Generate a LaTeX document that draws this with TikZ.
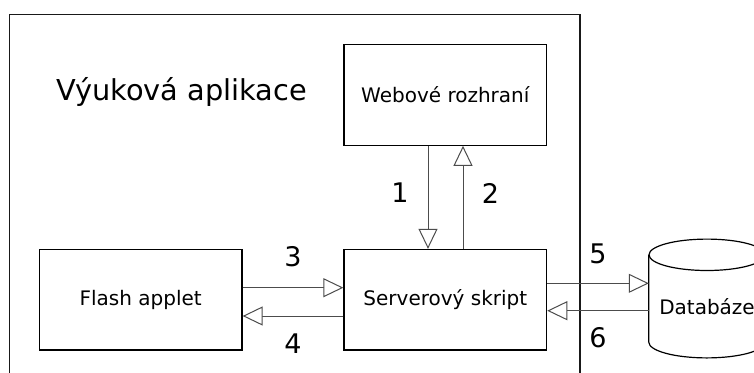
\documentclass[tikz,border=0pt]{standalone}
\usepackage{fontspec}
\setmainfont{DejaVu Sans}
\usetikzlibrary{arrows.meta}
\tikzset{
  boxnode/.style={draw=black, line width=1.2pt, minimum width=202.7pt, minimum height=100.5pt, inner sep=0pt, font=\fontsize{20}{24}\selectfont},
  numlabel/.style={inner sep=0pt, font=\fontsize{27}{32}\selectfont},
  conn/.style={draw=black!70, line width=1pt, -{Triangle[length=20pt,width=19pt,fill=white,line width=1pt]}},
  frame/.style={draw=black!90, line width=1.4pt},
}
\begin{document}
\begin{tikzpicture}[x=1pt,y=-1pt]
\useasboundingbox (0,0) rectangle (754,372);
\clip (0,0) rectangle (754,372);
\fill[white] (0,0) rectangle (754,372);
% outer frame
\draw[frame] (9.5,14.5) rectangle (580,400);
\node[anchor=base, inner sep=0pt, font=\fontsize{28.8}{34}\selectfont] (title) at (181.7,100) {Výuková aplikace};
% boxes
\node[boxnode] (web) at (445.3,95) {Webové rozhraní};
\node[boxnode] (server) at (445.3,299.7) {Serverový skript};
\node[boxnode] (flash) at (140.7,299.7) {Flash applet};
% database cylinder
\node[minimum width=116pt, minimum height=87pt, inner sep=0pt] (db) at (707,298.5) {};
\draw[black, line width=1.2pt] (db.north) ellipse [x radius=58pt, y radius=15.7pt];
\draw[black, line width=1.2pt] (db.north west) -- (db.south west)
  arc[start angle=180, end angle=360, x radius=58pt, y radius=15.7pt] -- (db.north east);
\node[inner sep=0pt, font=\fontsize{20}{24}\selectfont] (dbtext) at (707,307) {Databáze};
% connectors
\draw[conn] ([xshift=-17.3pt]web.south) -- ([xshift=-17.3pt]server.north);
\draw[conn] ([xshift=17.7pt]server.north) -- ([xshift=17.7pt]web.south);
\draw[conn] ([yshift=12pt]flash.east) -- ([yshift=12pt]server.west);
\draw[conn] ([yshift=-16.3pt]server.west) -- ([yshift=-16.3pt]flash.east);
\draw[conn] ([yshift=16.4pt]server.east) -- ([yshift=16.4pt]server.east -| db.west);
\draw[conn] ([yshift=-11pt]server.east -| db.west) -- ([yshift=-11pt]server.east);
% labels
\node[numlabel] (l1) at (400,193) {1};
\node[numlabel] (l2) at (490.5,193) {2};
\node[numlabel] (l3) at (293,256.7) {3};
\node[numlabel] (l4) at (293,344) {4};
\node[numlabel] (l5) at (598,254) {5};
\node[numlabel] (l6) at (598,338) {6};
\end{tikzpicture}
\end{document}
